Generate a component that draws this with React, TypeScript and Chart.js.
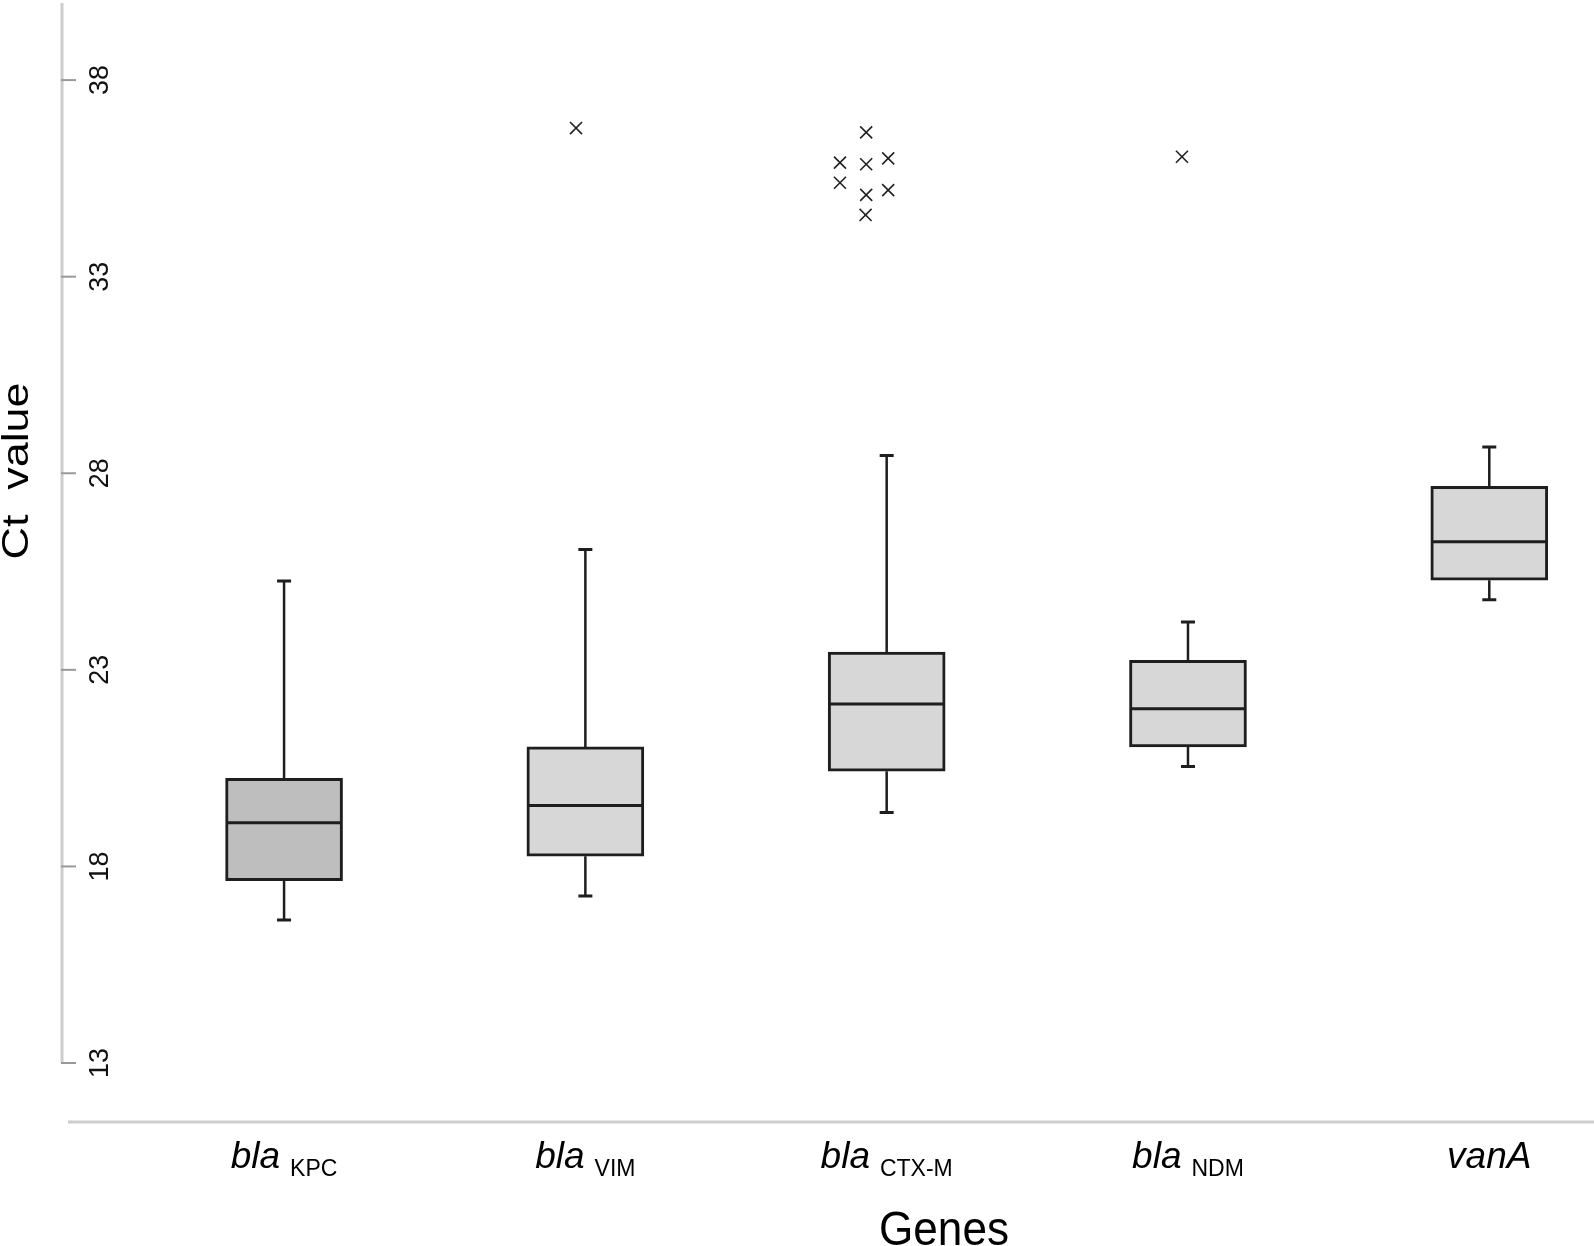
import React, { useEffect, useRef } from "react";
import { Chart, registerables } from "chart.js";

Chart.register(...registerables);

// ---------- data ----------
const geneMain = ["bla", "bla", "bla", "bla", "vanA"];
const geneSub = ["KPC", "VIM", "CTX-M", "NDM", ""];
const whiskerLow = [16.64, 17.25, 19.37, 20.54, 24.78];
const quart1 = [17.64, 18.26, 20.42, 21.04, 25.28];
const medians = [19.11, 19.55, 22.13, 22.01, 26.26];
const quart3 = [20.24, 21.04, 23.45, 23.24, 27.67];
const whiskerHigh = [25.26, 26.06, 28.45, 24.22, 28.67];
const outlierX = [0.969, 1.932, 1.845, 1.932, 2.005, 1.845, 1.932, 2.005, 1.93, 2.98];
const outlierY = [36.78, 36.67, 35.9, 35.86, 36.01, 35.39, 35.08, 35.2, 34.57, 36.05];
const yTicks = [13, 18, 23, 28, 33, 38];
const boxColors = ["#bebebe", "#d7d7d7", "#d7d7d7", "#d7d7d7", "#d7d7d7"];
const xTitle = "Genes";
const yTitle = "Ct  value";

const FONT = '"Liberation Sans", Arial, Helvetica, sans-serif';
const LINE = "#1e1e1e";
const AXIS = "#cdcdcd";

const boxPlugin = {
  id: "boxExtras",
  beforeDatasetsDraw(chart: any) {
    const { ctx } = chart;
    const x = chart.scales.x;
    const y = chart.scales.y;
    ctx.save();
    ctx.strokeStyle = LINE;
    ctx.lineCap = "butt";
    for (let i = 0; i < medians.length; i++) {
      const cx = x.getPixelForValue(i);
      const yHi = y.getPixelForValue(whiskerHigh[i]);
      const yLo = y.getPixelForValue(whiskerLow[i]);
      const yQ3 = y.getPixelForValue(quart3[i]);
      const yQ1 = y.getPixelForValue(quart1[i]);
      ctx.lineWidth = 2.5;
      ctx.beginPath();
      ctx.moveTo(cx, yQ3);
      ctx.lineTo(cx, yHi);
      ctx.moveTo(cx, yQ1);
      ctx.lineTo(cx, yLo);
      ctx.stroke();
      ctx.lineWidth = 3;
      ctx.beginPath();
      ctx.moveTo(cx - 7, yHi);
      ctx.lineTo(cx + 7, yHi);
      ctx.moveTo(cx - 7, yLo);
      ctx.lineTo(cx + 7, yLo);
      ctx.stroke();
    }
    ctx.restore();
  },
  afterDatasetsDraw(chart: any) {
    const { ctx } = chart;
    const y = chart.scales.y;
    const meta = chart.getDatasetMeta(0);
    ctx.save();
    ctx.strokeStyle = LINE;
    ctx.lineWidth = 3;
    meta.data.forEach((bar: any, i: number) => {
      const { x: bx, width } = bar.getProps(["x", "width"], true);
      const ym = y.getPixelForValue(medians[i]);
      ctx.beginPath();
      ctx.moveTo(bx - width / 2 + 1.5, ym);
      ctx.lineTo(bx + width / 2 - 1.5, ym);
      ctx.stroke();
    });
    ctx.restore();
  },
  afterDraw(chart: any) {
    const { ctx, chartArea } = chart;
    const x = chart.scales.x;
    const y = chart.scales.y;
    ctx.save();
    // y axis line
    const ax = chartArea.left;
    ctx.strokeStyle = AXIS;
    ctx.lineWidth = 3;
    ctx.beginPath();
    ctx.moveTo(ax, chartArea.top - 7);
    ctx.lineTo(ax, y.getPixelForValue(yTicks[0]));
    ctx.stroke();
    // ticks
    ctx.strokeStyle = "#999999";
    ctx.lineWidth = 2;
    yTicks.forEach((t) => {
      const py = y.getPixelForValue(t);
      ctx.beginPath();
      ctx.moveTo(ax - 1, py);
      ctx.lineTo(ax + 14, py);
      ctx.stroke();
    });
    // tick labels (rotated)
    ctx.fillStyle = "#111111";
    ctx.font = `27px ${FONT}`;
    ctx.textAlign = "center";
    ctx.textBaseline = "alphabetic";
    yTicks.forEach((t) => {
      const py = y.getPixelForValue(t);
      ctx.save();
      ctx.translate(ax + 46, py);
      ctx.rotate(-Math.PI / 2);
      ctx.fillText(String(t), 0, 0);
      ctx.restore();
    });
    // x axis line
    ctx.strokeStyle = AXIS;
    ctx.lineWidth = 3;
    ctx.beginPath();
    ctx.moveTo(ax + 6, chartArea.bottom);
    ctx.lineTo(chart.width, chartArea.bottom);
    ctx.stroke();
    // x category labels
    ctx.fillStyle = "#000000";
    ctx.textAlign = "left";
    const mainFont = `italic 37px ${FONT}`;
    const subFont = `23px ${FONT}`;
    for (let i = 0; i < geneMain.length; i++) {
      const cx = x.getPixelForValue(i);
      ctx.font = mainFont;
      const wMain = ctx.measureText(geneMain[i]).width;
      ctx.font = subFont;
      const wSub = geneSub[i] ? ctx.measureText(geneSub[i]).width : 0;
      const gap = geneSub[i] ? 10 : 0;
      const start = cx - (wMain + gap + wSub) / 2;
      ctx.font = mainFont;
      ctx.fillText(geneMain[i], start, chartArea.bottom + 46);
      if (geneSub[i]) {
        ctx.font = subFont;
        ctx.fillText(geneSub[i], start + wMain + gap, chartArea.bottom + 54);
      }
    }
    // x title
    ctx.font = `48px ${FONT}`;
    const wG = ctx.measureText(xTitle).width;
    ctx.save();
    ctx.translate(944, chart.height - 1);
    ctx.scale(130 / wG, 1);
    ctx.textAlign = "center";
    ctx.fillText(xTitle, 0, 0);
    ctx.restore();
    // y title
    ctx.font = `36px ${FONT}`;
    const wY = ctx.measureText(yTitle).width;
    ctx.save();
    ctx.translate(28, 471);
    ctx.rotate(-Math.PI / 2);
    ctx.scale(177 / wY, 1);
    ctx.textAlign = "center";
    ctx.fillText(yTitle, 0, 0);
    ctx.restore();
    ctx.restore();
  },
};

export default function App() {
  const ref = useRef<HTMLCanvasElement | null>(null);
  useEffect(() => {
    if (!ref.current) return;
    const chart = new Chart(ref.current, {
      type: "bar",
      data: {
        datasets: [
          {
            type: "bar",
            data: quart1.map((q, i) => ({ x: i, y: [q, quart3[i]] })) as any,
            backgroundColor: boxColors,
            borderColor: LINE,
            borderWidth: 3,
            borderSkipped: false,
            barThickness: 117,
            grouped: false,
          } as any,
          {
            type: "scatter",
            data: outlierX.map((v, i) => ({ x: v, y: outlierY[i] })),
            pointStyle: "crossRot",
            pointRadius: 8.5,
            borderColor: "#222222",
            borderWidth: 1.6,
            backgroundColor: "rgba(0,0,0,0)",
            showLine: false,
          } as any,
        ],
      },
      options: {
        responsive: false,
        animation: false,
        layout: { padding: { left: 62, right: 10, top: 10, bottom: 124 } },
        plugins: { legend: { display: false }, tooltip: { enabled: false } },
        scales: {
          x: { type: "linear", offset: false, min: -0.737, max: 4.314, display: false },
          y: { type: "linear", offset: false, min: 11.5, max: 39.78, display: false },
        },
      },
      plugins: [boxPlugin],
    });
    return () => chart.destroy();
  }, []);
  return (
    <div style={{ position: "absolute", left: 0, top: 0, width: 1594, height: 1246, background: "#ffffff" }}>
      <canvas ref={ref} width={1594} height={1246} />
    </div>
  );
}
